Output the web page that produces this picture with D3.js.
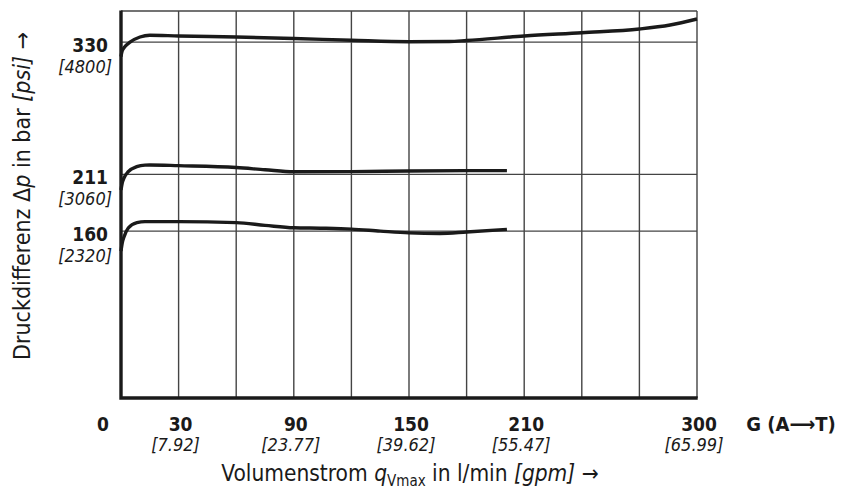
<!DOCTYPE html>
<html>
<head>
<meta charset="utf-8">
<script src="https://cdn.jsdelivr.net/npm/d3@7"></script>
<style>
  body { margin: 0; background: #fff; }
  svg text { font-family: "DejaVu Sans Condensed", "Liberation Sans", sans-serif; fill: #1a1a1a; }
</style>
</head>
<body>
<div id="chart"></div>
<script>
// flow axis (l/min) and its gpm equivalents
const flowTicks = [0, 30, 90, 150, 210, 300];
const flowTicksGpm = ["", "[7.92]", "[23.77]", "[39.62]", "[55.47]", "[65.99]"];
const flowGrid = [30, 60, 90, 120, 150, 180, 210, 240, 270];

// pressure axis (bar) and psi equivalents
const pressureTicks = [330, 211, 160];
const pressureTicksPsi = ["[4800]", "[3060]", "[2320]"];

// curves: [flow l/min, pressure bar]
const curve330 = [
  [0, 317], [0.6, 322], [2.1, 326], [4.7, 330], [9.9, 334.6], [15, 336.2], [30, 335.5],
  [60, 334.6], [90, 333.3], [120, 331.7], [150, 330.4], [171, 330.6], [180, 331.5],
  [210, 335.5], [240, 338.5], [270, 341.8], [286, 345.4], [300, 350.8]
];
const curve211 = [
  [0, 197], [0.6, 203], [1.6, 208], [3.8, 213.5], [8.2, 218], [12.5, 219.4], [15, 219.5],
  [30, 218.9], [60, 217.2], [75, 215.2], [90, 213.4], [120, 213.5], [150, 214.1], [180, 214.4], [201, 214.4]
];
const curve160 = [
  [0, 142], [0.6, 149], [1.6, 155], [3.8, 162.8], [8.3, 167.6], [12.5, 168.5], [30, 168.5],
  [60, 167.6], [75, 165.2], [90, 163], [105, 162.6], [120, 161.8], [135, 160], [150, 158.4], [166, 157.9],
  [180, 159.2], [201, 161.6]
];

const width = 841, height = 492;
const plotLeft = 121, plotRight = 697, plotTop = 11, plotBottom = 398;

const svg = d3.select("#chart").append("svg")
  .attr("width", width)
  .attr("height", height);

const x = d3.scaleLinear().domain([0, 300]).range([plotLeft, plotRight]);
const y = d3.scaleLinear().domain([0, 358]).range([409, plotTop]);

const grid = svg.append("g").attr("stroke", "#444").attr("stroke-width", 1.4);

// vertical grid lines
grid.selectAll(".vgrid").data(flowGrid).enter().append("line")
  .attr("class", "vgrid")
  .attr("x1", d => x(d)).attr("x2", d => x(d))
  .attr("y1", plotTop).attr("y2", plotBottom);

// horizontal grid lines
grid.selectAll(".hgrid").data(pressureTicks).enter().append("line")
  .attr("class", "hgrid")
  .attr("x1", plotLeft).attr("x2", plotRight)
  .attr("y1", d => y(d)).attr("y2", d => y(d));

// frame: thin top/right, heavy left/bottom
grid.append("line").attr("x1", plotLeft).attr("x2", plotRight).attr("y1", plotTop).attr("y2", plotTop);
grid.append("line").attr("x1", plotRight).attr("x2", plotRight).attr("y1", plotTop).attr("y2", plotBottom);

// curves
const line = d3.line().x(d => x(d[0])).y(d => y(d[1])).curve(d3.curveMonotoneX);
svg.selectAll(".curve").data([curve330, curve211, curve160]).enter().append("path")
  .attr("class", "curve")
  .attr("d", line)
  .attr("fill", "none")
  .attr("stroke", "#1a1a1a")
  .attr("stroke-width", 3.4)
  .attr("stroke-linecap", "butt");

svg.append("path")
  .attr("d", `M${plotLeft},${plotTop - 0.5}V${plotBottom}H${plotRight + 0.7}`)
  .attr("fill", "none")
  .attr("stroke", "#1a1a1a")
  .attr("stroke-width", 3.4);

// y tick labels
const yLab = svg.append("g");
yLab.selectAll(".ybar").data(pressureTicks).enter().append("text")
  .attr("class", "ybar")
  .attr("x", 108).attr("y", d => y(d) + 10)
  .attr("text-anchor", "end")
  .attr("font-size", 19).attr("font-weight", "bold")
  .text(d => d);
yLab.selectAll(".ypsi").data(pressureTicksPsi).enter().append("text")
  .attr("class", "ypsi")
  .attr("x", 112).attr("y", (d, i) => y(pressureTicks[i]) + 30.5)
  .attr("text-anchor", "end")
  .attr("font-size", 18).attr("font-style", "italic")
  .attr("fill", "#333")
  .text(d => d);

// x tick labels
const xLab = svg.append("g");
xLab.selectAll(".xlpm").data(flowTicks).enter().append("text")
  .attr("class", "xlpm")
  .attr("x", d => d === 0 ? x(d) - 18 : x(d) + 2)
  .attr("y", 431)
  .attr("text-anchor", "middle")
  .attr("font-size", 19).attr("font-weight", "bold")
  .text(d => d);
xLab.selectAll(".xgpm").data(flowTicksGpm).enter().append("text")
  .attr("class", "xgpm")
  .attr("x", (d, i) => x(flowTicks[i]) - 3)
  .attr("y", 451)
  .attr("text-anchor", "middle")
  .attr("font-size", 18).attr("font-style", "italic")
  .attr("fill", "#333")
  .text(d => d);

svg.append("text")
  .attr("x", 791).attr("y", 431)
  .attr("text-anchor", "middle")
  .attr("font-size", 20).attr("font-weight", "bold")
  .text("G (A\u27F6T)");

// x axis title
const xt = svg.append("text")
  .attr("x", 410).attr("y", 481)
  .attr("text-anchor", "middle")
  .attr("font-size", 22.5);
xt.append("tspan").text("Volumenstrom ");
xt.append("tspan").attr("font-style", "italic").text("q");
xt.append("tspan").attr("font-size", 15).attr("dy", 5).text("Vmax");
xt.append("tspan").attr("dy", -5).text(" in l/min ");
xt.append("tspan").attr("font-style", "italic").text("[gpm]");
xt.append("tspan").text(" \u2192");

// y axis title
const yt = svg.append("text")
  .attr("transform", "translate(30,196) rotate(-90)")
  .attr("text-anchor", "middle")
  .attr("font-size", 23);
yt.append("tspan").text("Druckdifferenz \u0394");
yt.append("tspan").attr("font-style", "italic").text("p");
yt.append("tspan").text(" in bar ");
yt.append("tspan").attr("font-style", "italic").text("[psi]");
yt.append("tspan").text(" \u2192");
</script>
</body>
</html>
